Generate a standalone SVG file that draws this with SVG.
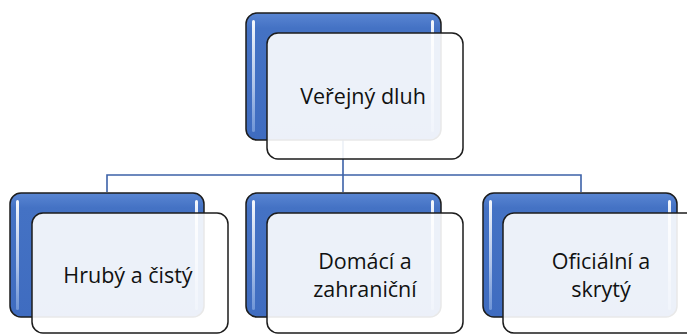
<svg xmlns="http://www.w3.org/2000/svg" width="687" height="334" viewBox="0 0 687 334">
<defs>
<linearGradient id="blueG" x1="0" y1="0" x2="0" y2="1">
<stop offset="0" stop-color="#5a86d3"/>
<stop offset="0.12" stop-color="#4472c4"/>
<stop offset="1" stop-color="#3f6cc0"/>
</linearGradient>
<linearGradient id="hiG" x1="0" y1="0" x2="0" y2="1">
<stop offset="0" stop-color="#ffffff" stop-opacity="0.95"/>
<stop offset="0.6" stop-color="#c9d8f2" stop-opacity="0.8"/>
<stop offset="1" stop-color="#8fb0e6" stop-opacity="0.6"/>
</linearGradient>
</defs>
<style>
.back{fill:url(#blueG);stroke:#1c1c1c;stroke-width:1.5}
.hi{fill:url(#hiG)}
.front{fill:#ffffff;fill-opacity:0.9;stroke:#1c1c1c;stroke-width:1.5}
.lbl{font-family:"Open Sans","Noto Sans","Liberation Sans",sans-serif;font-size:21.5px;fill:#111111;text-anchor:middle}
.conn{fill:none;stroke:#3c62a8;stroke-width:1.6}
</style>
<g id="connectors">
<path class="conn" d="M343,140 V175 M107,192 V175 H581 V192 M343,175 V192"/>
</g>
<g id="n-root">
<rect class="back" x="246" y="13" width="195" height="127" rx="11"/>
<rect class="hi" x="252" y="20" width="3" height="112" rx="1.5"/>
<rect class="hi" x="431" y="20" width="3" height="112" rx="1.5"/>
<rect class="front" x="267" y="33" width="196" height="126" rx="11"/>
<text class="lbl" x="363" y="104">Veřejný dluh</text>
</g>
<g id="n-hruby">
<rect class="back" x="10" y="193" width="194" height="124" rx="11"/>
<rect class="hi" x="16" y="200" width="3" height="110" rx="1.5"/>
<rect class="hi" x="195" y="200" width="3" height="110" rx="1.5"/>
<rect class="front" x="32" y="213" width="196" height="120" rx="11"/>
<text class="lbl" x="128" y="283">Hrubý a čistý</text>
</g>
<g id="n-domaci">
<rect class="back" x="246" y="193" width="195" height="124" rx="11"/>
<rect class="hi" x="252" y="200" width="3" height="110" rx="1.5"/>
<rect class="hi" x="431" y="200" width="3" height="110" rx="1.5"/>
<rect class="front" x="267" y="213" width="196" height="120" rx="11"/>
<text class="lbl" x="365" y="269">Domácí a</text>
<text class="lbl" x="365" y="297">zahraniční</text>
</g>
<g id="n-oficialni">
<rect class="back" x="483" y="193" width="194" height="124" rx="11"/>
<rect class="hi" x="489" y="200" width="3" height="110" rx="1.5"/>
<rect class="hi" x="668" y="200" width="3" height="110" rx="1.5"/>
<rect class="front" x="503" y="213" width="196" height="120" rx="11"/>
<text class="lbl" x="601" y="269">Oficiální a</text>
<text class="lbl" x="601" y="297">skrytý</text>
</g>
</svg>
